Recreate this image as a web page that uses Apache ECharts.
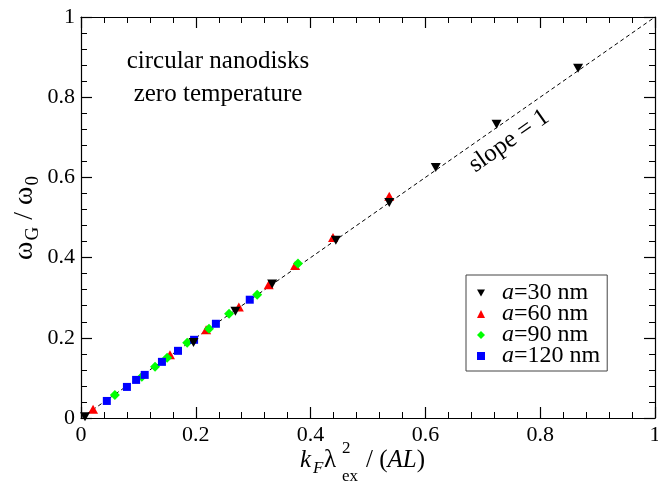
<!DOCTYPE html>
<html><head><meta charset="utf-8">
<script src="https://cdn.jsdelivr.net/npm/echarts@6/dist/echarts.min.js"></script>
<style>html,body{margin:0;padding:0;background:#fff}#c{width:658px;height:489px}</style>
</head><body><div id="c"></div>
<script>
// a = 30 nm (black down triangles)
const a30x = [0.007, 0.196, 0.269, 0.333, 0.444, 0.537, 0.618, 0.724, 0.866];
const a30y = [0.003, 0.188, 0.266, 0.334, 0.443, 0.5375, 0.625, 0.7325, 0.8725];
// a = 60 nm (red triangles)
const a60x = [0.021, 0.155, 0.218, 0.275, 0.327, 0.373, 0.439, 0.537];
const a60y = [0.022, 0.158, 0.220, 0.277, 0.332, 0.380, 0.450, 0.553];
// a = 90 nm (green diamonds)
const a90x = [0.059, 0.106, 0.129, 0.150, 0.185, 0.223, 0.258, 0.307, 0.378];
const a90y = [0.0575, 0.103, 0.1275, 0.150, 0.1875, 0.2225, 0.260, 0.3075, 0.385];
// a = 120 nm (blue squares)
const a120x = [0.045, 0.080, 0.096, 0.111, 0.141, 0.169, 0.197, 0.235, 0.294];
const a120y = [0.0425, 0.0775, 0.095, 0.1075, 0.140, 0.1675, 0.195, 0.235, 0.295];
// slope = 1 reference line
const lineX = [0, 1];
const lineY = [0, 1];
const seriesNames = ['a=30 nm', 'a=60 nm', 'a=90 nm', 'a=120 nm'];

const zip = (xs, ys) => xs.map((x, i) => [x, ys[i]]);
const FF = 'Liberation Serif';
const down = 'path://M0,0L10,0L5,9Z';

const axisCommon = {
  type: 'value', min: 0, max: 1, interval: 0.2,
  axisLine: { show: true, onZero: false, lineStyle: { color: '#000', width: 1.2 } },
  axisTick: { show: true, inside: true, length: 11, lineStyle: { color: '#000', width: 1.2 } },
  minorTick: { show: true, splitNumber: 5, length: 6, lineStyle: { color: '#000', width: 1 } },
  splitLine: { show: false },
};

const chart = echarts.init(document.getElementById('c'));
chart.setOption({
  animation: false,
  backgroundColor: '#fff',
  grid: { left: 81, right: 3, top: 17, bottom: 71, containLabel: false, outerBoundsMode: 'none' },
  xAxis: [
    Object.assign({}, axisCommon, { position: 'bottom',
      axisLabel: { color: '#000', fontFamily: FF, fontSize: 22, margin: 6 } }),
    Object.assign({}, axisCommon, { position: 'top', axisLabel: { show: false } })
  ],
  yAxis: [
    Object.assign({}, axisCommon, { position: 'left',
      axisLabel: { color: '#000', fontFamily: FF, fontSize: 22, margin: 6 } }),
    Object.assign({}, axisCommon, { position: 'right', axisLabel: { show: false } })
  ],
  legend: {
    left: 466, top: 275, orient: 'vertical',
    itemWidth: 8, itemHeight: 8, itemGap: -3,
    padding: [6, 7, 3, 11],
    borderColor: '#444', borderWidth: 1,
    data: [
      { name: seriesNames[0], icon: down },
      { name: seriesNames[1], icon: 'triangle' },
      { name: seriesNames[2], icon: 'diamond' },
      { name: seriesNames[3], icon: 'rect' }
    ],
    formatter: n => '{i|a}{t|' + n.slice(1) + '}',
    textStyle: {
      color: '#000', fontFamily: FF, fontSize: 24, lineHeight: 21.5,
      rich: {
        i: { fontFamily: FF, fontSize: 24, lineHeight: 21.5, fontStyle: 'italic', color: '#000', padding: [0, 0, 0, 12] },
        t: { fontFamily: FF, fontSize: 24, lineHeight: 21.5, color: '#000' }
      }
    }
  },
  series: [
    { type: 'line', data: zip(lineX, lineY), symbol: 'none', silent: true, z: 1,
      lineStyle: { color: '#000', width: 1, type: [4, 3] } },
    { name: seriesNames[0], type: 'scatter', data: zip(a30x, a30y), symbol: down, symbolSize: [10, 9], z: 6,
      itemStyle: { color: '#000', opacity: 1 } },
    { name: seriesNames[1], type: 'scatter', data: zip(a60x, a60y), symbol: 'triangle', symbolSize: [10, 9], z: 3,
      itemStyle: { color: '#ff0000', opacity: 1 } },
    { name: seriesNames[2], type: 'scatter', data: zip(a90x, a90y), symbol: 'diamond', symbolSize: 10, z: 4,
      itemStyle: { color: '#00ff00', opacity: 1 } },
    { name: seriesNames[3], type: 'scatter', data: zip(a120x, a120y), symbol: 'rect', symbolSize: 8, z: 5,
      itemStyle: { color: '#0000ff', opacity: 1 } }
  ],
  graphic: [
    { type: 'text', x: 218, y: 61, style: { text: 'circular nanodisks', font: '25px "Liberation Serif"', fill: '#000', align: 'center', verticalAlign: 'middle' } },
    { type: 'text', x: 218, y: 94, style: { text: 'zero temperature', font: '25px "Liberation Serif"', fill: '#000', align: 'center', verticalAlign: 'middle' } },
    { type: 'text', x: 509, y: 141, rotation: 35 * Math.PI / 180, style: { text: 'slope = 1', font: '25px "Liberation Serif"', fill: '#000', align: 'center', verticalAlign: 'middle' } },
    // y axis title
    { type: 'text', x: 25, y: 218, rotation: Math.PI / 2,
      style: { text: '{a|ω}{s|G}{a| / ω}{s|0}', align: 'center', verticalAlign: 'middle', fill: '#000',
        rich: {
          a: { fontFamily: FF, fontSize: 28, lineHeight: 32, fill: '#000' },
          s: { fontFamily: FF, fontSize: 19, fill: '#000', padding: [17, 0, 0, 1] }
        } } },
    // x axis title pieces
    { type: 'text', x: 300, y: 460, style: { text: 'k', font: 'italic 25px "Liberation Serif"', fill: '#000', align: 'left', verticalAlign: 'middle' } },
    { type: 'text', x: 313, y: 469, style: { text: 'F', font: 'italic 17px "Liberation Serif"', fill: '#000', align: 'left', verticalAlign: 'middle' } },
    { type: 'text', x: 324, y: 460, style: { text: 'λ', font: '25px "Liberation Serif"', fill: '#000', align: 'left', verticalAlign: 'middle' } },
    { type: 'text', x: 342, y: 449, style: { text: '2', font: '17px "Liberation Serif"', fill: '#000', align: 'left', verticalAlign: 'middle' } },
    { type: 'text', x: 342, y: 477, style: { text: 'ex', font: '17px "Liberation Serif"', fill: '#000', align: 'left', verticalAlign: 'middle' } },
    { type: 'text', x: 366, y: 460, style: { text: '/ ({i|AL})', fill: '#000', align: 'left', verticalAlign: 'middle',
        font: '25px "Liberation Serif"',
        rich: { i: { fontFamily: FF, fontSize: 25, fontStyle: 'italic', fill: '#000' } } } }
  ]
});
</script>
</body></html>
